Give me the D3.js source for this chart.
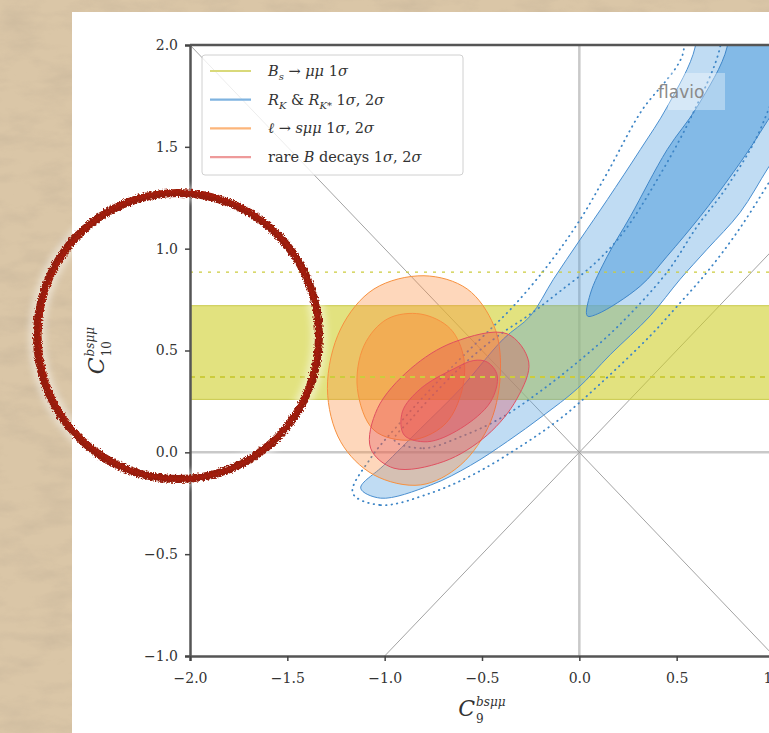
<!DOCTYPE html>
<html>
<head>
<meta charset="utf-8">
<script src="https://cdn.jsdelivr.net/npm/d3@7"></script>
<style>
  html, body { margin: 0; padding: 0; background: #d8c4a5; overflow: hidden; }
  svg { display: block; }
</style>
</head>
<body>
<svg id="chart" width="769" height="733"></svg>
<script>
// ---- data (C9 , C10 in data units) ----
const xTicks = [-2.0, -1.5, -1.0, -0.5, 0.0, 0.5, 1.0];
const yTicks = [-1.0, -0.5, 0.0, 0.5, 1.0, 1.5, 2.0];

// Bs -> mu mu : filled 1 sigma band and the two dashed lines
const bsBand = [0.26, 0.72];
const bsDashed = [0.37, 0.885];

// R_K & R_K* contours
const rk2s = [[-1.123,-0.176],[-1.021,-0.225],[-0.764,-0.161],[-0.559,-0.064],[-0.369,0.054],[-0.185,0.181],
  [-0.01,0.313],[0.159,0.48],[0.364,0.67],[0.518,0.85],[0.656,0.997],[0.826,1.178],[0.974,1.403],
  [1.133,1.632],[1.338,2.0],[1.44,2.2],[0.595,2.2],[0.595,1.99],[0.451,1.696],[0.313,1.486],[0.144,1.241],
  [0.005,1.046],[-0.133,0.85],[-0.251,0.67],[-0.39,0.557],[-0.61,0.313],[-0.815,0.117],[-1.005,-0.064]];
const rk1s = [[0.041,0.67],[0.092,0.679],[0.313,0.816],[0.451,0.963],[0.621,1.158],[0.79,1.373],[0.928,1.569],
  [1.082,1.828],[1.185,2.2],[0.759,2.2],[0.759,1.99],[0.605,1.696],[0.451,1.486],[0.262,1.158],[0.144,0.963],[0.056,0.777]];
const rk2sDotted = [[-1.164,-0.2],[-1.021,-0.259],[-0.764,-0.2],[-0.533,-0.103],[-0.303,0.029],[-0.097,0.166],
  [0.108,0.337],[0.364,0.572],[0.503,0.718],[0.656,0.885],[0.81,1.08],[0.974,1.325],[1.133,1.584],[1.39,2.2],
  [0.518,2.2],[0.533,1.96],[0.313,1.667],[0.144,1.373],[0.005,1.144],[-0.149,0.934],[-0.338,0.718],[-0.508,0.557],
  [-0.713,0.362],[-0.933,0.132],[-1.072,-0.029]];
const rk1sDotted = [[-0.95,0.06],[-0.8,0.02],[-0.6,0.08],[-0.4,0.17],[-0.2,0.3],[0.0,0.45],[0.2,0.62],[0.451,0.885],
  [0.605,1.109],[0.759,1.305],[0.944,1.618],[1.1,2.2],[0.733,2.2],[0.723,1.99],[0.585,1.667],[0.4,1.339],[0.226,1.08],
  [0.082,0.93],[-0.1,0.79],[-0.25,0.68],[-0.42,0.57],[-0.574,0.45],[-0.713,0.32],[-0.867,0.16]];

// l -> s mu mu
const ll2s = [[-0.798,0.867],[-0.576,0.802],[-0.439,0.622],[-0.405,0.41],[-0.456,0.15],[-0.61,-0.062],[-0.815,-0.16],
  [-1.055,-0.111],[-1.226,0.052],[-1.294,0.313],[-1.226,0.606],[-1.055,0.802]];
const ll1s = [[-0.815,0.679],[-0.662,0.606],[-0.593,0.459],[-0.61,0.28],[-0.696,0.133],[-0.867,0.06],[-1.055,0.109],
  [-1.14,0.313],[-1.106,0.524],[-0.986,0.655]];

// rare B decays
const rare2s = [[-0.371,0.582],[-0.26,0.443],[-0.32,0.264],[-0.473,0.085],[-0.696,-0.045],[-0.952,-0.078],
  [-1.072,0.02],[-1.037,0.215],[-0.867,0.41],[-0.645,0.541]];
const rare1s = [[-0.473,0.443],[-0.422,0.378],[-0.456,0.248],[-0.61,0.117],[-0.781,0.052],[-0.9,0.085],
  [-0.909,0.199],[-0.815,0.313],[-0.645,0.41],[-0.542,0.451]];

// legend, segments: [text, style]
const legendColors = ["#d9d97a", "#7fb3e0", "#fcb57a", "#ee9a9a"];
const legendLabels = [
  [["B","i"],["s","sub"],[" → ","n"],["μμ","i"],[" 1","n"],["σ","i"]],
  [["R","i"],["K","sub"],[" & ","n"],["R","i"],["K*","sub"],[" 1","n"],["σ","i"],[", 2","n"],["σ","i"]],
  [["ℓ","i"],[" → ","n"],["sμμ","i"],[" 1","n"],["σ","i"],[", 2","n"],["σ","i"]],
  [["rare ","n"],["B","i"],[" decays 1","n"],["σ","i"],[", 2","n"],["σ","i"]]
];

// ---- drawing ----
const W = 769, H = 733;
const svg = d3.select("#chart");
const serif = "'DejaVu Serif', 'Liberation Serif', serif";

const defs = svg.append("defs");
const paper = defs.append("filter").attr("id", "paper")
  .attr("x", 0).attr("y", 0).attr("width", "100%").attr("height", "100%");
paper.append("feTurbulence").attr("type", "fractalNoise")
  .attr("baseFrequency", "0.025 0.06").attr("numOctaves", 5).attr("seed", 11);
paper.append("feColorMatrix").attr("type", "matrix")
  .attr("values", "0 0 0 0 0.52  0 0 0 0 0.42  0 0 0 0 0.30  0 0 0 -2.2 1.3");

const rough = defs.append("filter").attr("id", "rough")
  .attr("x", "-10%").attr("y", "-10%").attr("width", "120%").attr("height", "120%");
rough.append("feTurbulence").attr("type", "fractalNoise")
  .attr("baseFrequency", 0.6).attr("numOctaves", 2).attr("seed", 3).attr("result", "t");
rough.append("feDisplacementMap").attr("in", "SourceGraphic").attr("in2", "t")
  .attr("scale", 5).attr("xChannelSelector", "R").attr("yChannelSelector", "G");

const glow = defs.append("filter").attr("id", "glow")
  .attr("x", "-20%").attr("y", "-20%").attr("width", "140%").attr("height", "140%");
glow.append("feGaussianBlur").attr("stdDeviation", 3);

// background + card
svg.append("rect").attr("width", W).attr("height", H).attr("fill", "#dac6a7");
svg.append("rect").attr("width", W).attr("height", H).attr("filter", "url(#paper)").attr("opacity", 0.35);
svg.append("rect").attr("x", 72).attr("y", 12).attr("width", 720).attr("height", 740).attr("fill", "#fff");

const x = d3.scaleLinear().domain([-2, 1]).range([190, 774]);
const y = d3.scaleLinear().domain([-1, 2]).range([656, 45]);

defs.append("clipPath").attr("id", "plotclip").append("rect")
  .attr("x", x(-2)).attr("y", y(2)).attr("width", x(1) - x(-2)).attr("height", y(-1) - y(2));

const plot = svg.append("g").attr("clip-path", "url(#plotclip)");

// reference lines
plot.append("line").attr("x1", x(0)).attr("x2", x(0)).attr("y1", y(-1)).attr("y2", y(2))
  .attr("stroke", "#c9c9c9").attr("stroke-width", 2.5);
plot.append("line").attr("x1", x(-2)).attr("x2", x(1)).attr("y1", y(0)).attr("y2", y(0))
  .attr("stroke", "#c9c9c9").attr("stroke-width", 2.5);
plot.append("line").attr("x1", x(-2)).attr("y1", y(2)).attr("x2", x(1)).attr("y2", y(-1))
  .attr("stroke", "#999").attr("stroke-width", 0.9);
plot.append("line").attr("x1", x(-1)).attr("y1", y(-1)).attr("x2", x(1)).attr("y2", y(1))
  .attr("stroke", "#999").attr("stroke-width", 0.9);

// Bs band
plot.append("rect").attr("x", x(-2)).attr("width", x(1) - x(-2))
  .attr("y", y(bsBand[1])).attr("height", y(bsBand[0]) - y(bsBand[1]))
  .attr("fill", "#cfcf2a").attr("fill-opacity", 0.6)
  .attr("stroke", "#c9c94a").attr("stroke-width", 1);

const contour = d3.line().x(d => x(d[0])).y(d => y(d[1])).curve(d3.curveCatmullRomClosed.alpha(0.5));

function fillContour(pts, color, op, stroke) {
  plot.append("path").attr("d", contour(pts))
    .attr("fill", color).attr("fill-opacity", op)
    .attr("stroke", stroke).attr("stroke-width", 1);
}

fillContour(rk2s, "#5aa4e0", 0.38, "#4a8fd0");
fillContour(rk1s, "#5aa4e0", 0.6, "#3f86c8");
[rk2sDotted, rk1sDotted].forEach(pts => {
  plot.append("path").attr("d", contour(pts)).attr("fill", "none")
    .attr("stroke", "#3d85c6").attr("stroke-width", 1.8)
    .attr("stroke-linecap", "round").attr("stroke-dasharray", "0.5,5");
});

fillContour(ll2s, "#fd8d3c", 0.35, "#f7913f");
fillContour(ll1s, "#fd8d3c", 0.42, "#f7913f");
fillContour(rare2s, "#e04050", 0.3, "#e05060");
fillContour(rare1s, "#e04050", 0.35, "#e05060");

// Bs dashed lines
bsDashed.forEach((v, i) => {
  plot.append("line").attr("x1", x(-2)).attr("x2", x(1)).attr("y1", y(v)).attr("y2", y(v))
    .attr("stroke", "#cccc3c").attr("stroke-width", i === 0 ? 2 : 1.4)
    .attr("stroke-dasharray", i === 0 ? "5,5" : "3,6");
});

// flavio mark
svg.append("rect").attr("x", 668).attr("y", 73).attr("width", 57).attr("height", 37)
  .attr("fill", "#fff").attr("fill-opacity", 0.35);
svg.append("text").attr("x", 658).attr("y", 98).text("flavio")
  .attr("font-family", "'DejaVu Sans', sans-serif").attr("font-size", 17).attr("fill", "#8a8a8a");

// axes
const axL = svg.append("g").attr("transform", `translate(${x(-2)},0)`)
  .call(d3.axisLeft(y).tickValues(yTicks).tickFormat(d3.format(".1f")).tickSize(5).tickPadding(7));
const axB = svg.append("g").attr("transform", `translate(0,${y(-1)})`)
  .call(d3.axisBottom(x).tickValues(xTicks).tickFormat(d3.format(".1f")).tickSize(5).tickPadding(12));
[axL, axB].forEach(a => {
  a.select(".domain").attr("stroke", "#555").attr("stroke-width", 2.5);
  a.selectAll(".tick line").attr("stroke", "#444").attr("stroke-width", 1.5);
  a.selectAll(".tick text").attr("font-family", serif).attr("font-size", 14).attr("fill", "#333");
});
svg.append("line").attr("x1", x(-2)).attr("x2", x(1) + 10).attr("y1", y(2)).attr("y2", y(2))
  .attr("stroke", "#555").attr("stroke-width", 2.5);

// axis titles: C^{bsμμ}_9 and C^{bsμμ}_10
function coeffLabel(g, sub) {
  const c = g.append("text").attr("font-family", serif).attr("font-style", "italic")
    .attr("font-size", 22).attr("fill", "#333").text("C");
  const w = c.node().getComputedTextLength();
  g.append("text").attr("x", w + 1).attr("y", -10).attr("font-family", serif).attr("font-style", "italic")
    .attr("font-size", 12).attr("fill", "#333").text("bsμμ");
  g.append("text").attr("x", w + 1).attr("y", 7).attr("font-family", serif)
    .attr("font-size", 12).attr("fill", "#333").text(sub);
  return g.node().getBBox();
}
const gx = svg.append("g");
const bbx = coeffLabel(gx, "9");
gx.attr("transform", `translate(${x(-0.5) - bbx.width / 2},716)`);

const gy = svg.append("g");
const bby = coeffLabel(gy, "10");
gy.attr("transform", `translate(104,${y(0.5) + bby.width / 2}) rotate(-90)`);

// legend
const leg = svg.append("g");
leg.append("rect").attr("x", 202).attr("y", 55).attr("width", 261).attr("height", 120).attr("rx", 3)
  .attr("fill", "#fff").attr("fill-opacity", 0.8).attr("stroke", "#d0d0d0");
legendLabels.forEach((parts, i) => {
  const ly = 71 + i * 28.7;
  leg.append("line").attr("x1", 210).attr("x2", 251).attr("y1", ly).attr("y2", ly)
    .attr("stroke", legendColors[i]).attr("stroke-width", 2.2);
  const t = leg.append("text").attr("x", 268).attr("y", ly + 5)
    .attr("font-family", serif).attr("font-size", 14.5).attr("fill", "#333");
  let shifted = false;
  parts.forEach(([s, k]) => {
    const ts = t.append("tspan").text(s);
    if (k === "sub") {
      ts.attr("font-size", 10).attr("font-style", "italic").attr("dy", 4);
      shifted = true;
    } else {
      if (shifted) { ts.attr("dy", -4); shifted = false; }
      if (k === "i") ts.attr("font-style", "italic");
    }
  });
});

// hand-drawn red circle annotation
const mark = { cx: 178, cy: 336, rx: 141, ry: 143 };
svg.append("ellipse").attr("cx", mark.cx).attr("cy", mark.cy).attr("rx", mark.rx).attr("ry", mark.ry)
  .attr("fill", "none").attr("stroke", "#fff").attr("stroke-opacity", 0.45)
  .attr("stroke-width", 16).attr("filter", "url(#glow)");
svg.append("ellipse").attr("cx", mark.cx).attr("cy", mark.cy).attr("rx", mark.rx).attr("ry", mark.ry)
  .attr("fill", "none").attr("stroke", "#961a08").attr("stroke-width", 8).attr("filter", "url(#rough)");
svg.append("ellipse").attr("cx", mark.cx + 1).attr("cy", mark.cy - 1).attr("rx", mark.rx - 2).attr("ry", mark.ry + 1)
  .attr("fill", "none").attr("stroke", "#a21d0a").attr("stroke-width", 3).attr("filter", "url(#rough)");
</script>
</body>
</html>
